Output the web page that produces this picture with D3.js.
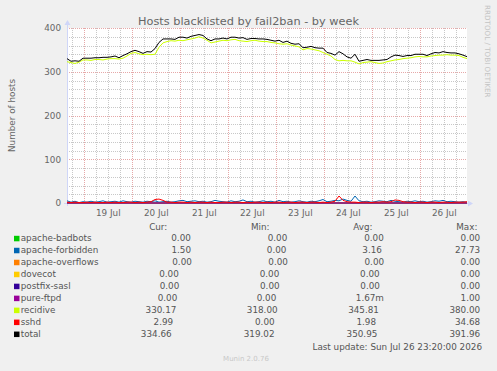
<!DOCTYPE html>
<html>
<head>
<meta charset="utf-8">
<script src="https://cdn.jsdelivr.net/npm/d3@7"></script>
<style>
body { margin: 0; background: #f0f0f0; }
svg { display: block; font-family: "DejaVu Sans", sans-serif; }
</style>
</head>
<body>
<div id="graph"></div>
<script>

// recidive, sshd, apache-forbidden: one value every 2 hours, Jul 18 15:20 -> Jul 26 23:20 (UTC)
var recidive = [323,321,319,322,327,327,326,328,328,327, 329,330,330,329,331,336,342,344,341,339,
	340,339,340,356,366,369,371,370,372,371, 373,375,377,380,377,372,366,368,370,372,
	371,373,374,371,370,369,371,372,370,369, 369,367,366,364,363,364,361,359,357,350,
	353,352,350,348,344,340,336,328,325,326, 325,325,322,318,321,322,323,321,319,320,
	323,325,327,328,330,331,332,334,335,334, 334,336,337,338,338,339,338,338,337,333,
	330];
var sshd = [2,1,2,1,1,2,1,2,1,1, 2,1,2,1,1,2,2,1,2,1, 2,3,8,9,6,2,2,1,2,2,
	1,2,1,2,2,1,2,1,1,2, 2,1,2,2,1,2,1,2,2,1, 2,1,2,2,1,2,2,1,2,2,
	1,2,2,1,2,1,2,4,16,6, 3,2,2,1,2,2,1,2,2,3, 2,3,7,6,3,2,2,1,2,2,
	1,2,2,1,2,2,1,2,2,2, 3];
var forbidden = [5,2,4,1,3,2,4,2,3,5, 2,3,4,2,5,3,2,4,3,2, 4,3,5,2,3,4,2,3,5,6,
	3,4,5,3,4,2,3,6,4,3, 2,5,3,4,7,3,4,2,3,5, 3,4,2,6,3,4,2,3,5,3,
	2,4,3,5,8,3,4,6,5,9, 6,4,16,5,3,4,2,3,5,4, 3,6,4,3,2,4,3,5,3,4,
	2,3,5,4,6,3,4,3,2,3, 1.5];
// the other jails stay at 0.00 over the whole week
var flat = new Array(recidive.length).fill(0);

var yTicks = [0, 100, 200, 300, 400];

var legendNames = ["apache-badbots", "apache-forbidden", "apache-overflows", "dovecot", "postfix-sasl", "pure-ftpd", "recidive", "sshd", "total"];
var legendColors = ["#00CC00", "#0066B3", "#FF8000", "#FFCC00", "#330099", "#990099", "#CCFF00", "#FF0000", "#000000"];
var legendCur = ["0.00", "1.50", "0.00", "0.00", "0.00", "0.00", "330.17", "2.99", "334.66"];
var legendMin = ["0.00", "0.00", "0.00", "0.00", "0.00", "0.00", "318.00", "0.00", "319.02"];
var legendAvg = ["0.00", "3.16", "0.00", "0.00", "0.00", "1.67m", "345.81", "1.98", "350.95"];
var legendMax = ["0.00", "27.73", "0.00", "0.00", "0.00", "1.00", "380.00", "34.68", "391.96"];

var width = 497, height = 371;
var pLeft = 67, pRight = 467, pTop = 28, pBottom = 203;
var start = Date.UTC(2026, 6, 18, 15, 20), end = Date.UTC(2026, 6, 26, 23, 20);
var step = 2 * 3600 * 1000;
var small = "8.8px";

var times = recidive.map(function(d, i) { return new Date(start + i * step); });
var total = recidive.map(function(d, i) { return d + sshd[i] + forbidden[i]; });

// drawing order as munin does it, total on top
var series = [
	{ v: flat, c: legendColors[0] },
	{ v: forbidden, c: legendColors[1] },
	{ v: flat, c: legendColors[2] },
	{ v: flat, c: legendColors[3] },
	{ v: flat, c: legendColors[4] },
	{ v: flat, c: legendColors[5] },
	{ v: recidive, c: legendColors[6] },
	{ v: sshd, c: legendColors[7] },
	{ v: total, c: legendColors[8] }
];

var x = d3.scaleUtc().domain([new Date(start), new Date(end)]).range([pLeft, pRight]);
var y = d3.scaleLinear().domain([0, 400]).range([pBottom, pTop]);

var svg = d3.select("#graph").append("svg")
	.attr("width", width)
	.attr("height", height);

svg.append("rect").attr("width", width).attr("height", height).attr("fill", "#f0f0f0");
svg.append("rect")
	.attr("x", pLeft).attr("y", pTop)
	.attr("width", pRight - pLeft).attr("height", pBottom - pTop)
	.attr("fill", "#fff");

// grid
var grid = svg.append("g").attr("stroke-dasharray", "1,1").attr("shape-rendering", "crispEdges");
var hours = d3.utcHour.every(6).range(new Date(start), new Date(end));
var minorH = d3.range(0, 401, 20).filter(function(v) { return v % 100 != 0; });

grid.selectAll(".hmin").data(minorH).enter().append("line")
	.attr("x1", pLeft).attr("x2", pRight)
	.attr("y1", function(d) { return Math.round(y(d)) + 0.5; })
	.attr("y2", function(d) { return Math.round(y(d)) + 0.5; })
	.attr("stroke", "#c8c8c8");
grid.selectAll(".vmin").data(hours.filter(function(d) { return d.getUTCHours() != 0; })).enter().append("line")
	.attr("x1", function(d) { return Math.round(x(d)) + 0.5; })
	.attr("x2", function(d) { return Math.round(x(d)) + 0.5; })
	.attr("y1", pTop).attr("y2", pBottom)
	.attr("stroke", "#c8c8c8");
grid.selectAll(".hmaj").data(yTicks).enter().append("line")
	.attr("x1", pLeft).attr("x2", pRight)
	.attr("y1", function(d) { return Math.round(y(d)) + 0.5; })
	.attr("y2", function(d) { return Math.round(y(d)) + 0.5; })
	.attr("stroke", "#e6a8a8");
grid.selectAll(".vmaj").data(hours.filter(function(d) { return d.getUTCHours() == 0; })).enter().append("line")
	.attr("x1", function(d) { return Math.round(x(d)) + 0.5; })
	.attr("x2", function(d) { return Math.round(x(d)) + 0.5; })
	.attr("y1", pTop).attr("y2", pBottom)
	.attr("stroke", "#e6a8a8");

// axes with arrows
var axisClr = "#CFD6F8";
svg.append("line").attr("x1", pLeft + 0.5).attr("x2", pLeft + 0.5).attr("y1", pBottom + 3).attr("y2", pTop - 5).attr("stroke", axisClr);
svg.append("line").attr("x1", pLeft - 3).attr("x2", pRight + 4).attr("y1", pBottom + 0.5).attr("y2", pBottom + 0.5).attr("stroke", axisClr);
svg.append("path").attr("d", "M" + (pLeft - 2.5) + "," + (pTop - 3) + "L" + (pLeft + 3.5) + "," + (pTop - 3) + "L" + (pLeft + 0.5) + "," + (pTop - 8) + "Z").attr("fill", axisClr);
svg.append("path").attr("d", "M" + (pRight + 1) + "," + (pBottom - 2.5) + "L" + (pRight + 1) + "," + (pBottom + 3.5) + "L" + (pRight + 6) + "," + (pBottom + 0.5) + "Z").attr("fill", axisClr);

// data lines
var line = d3.line()
	.x(function(d, i) { return x(times[i]); })
	.y(function(d) { return y(d); });

svg.append("g").selectAll("path")
	.data(series)
	.enter().append("path")
	.attr("d", function(d) { return line(d.v); })
	.attr("fill", "none")
	.attr("stroke", function(d) { return d.c; })
	.attr("stroke-width", 1);

// labels
svg.append("text")
	.attr("x", 248.5).attr("y", 25)
	.attr("text-anchor", "middle")
	.style("font-size", "11.3px")
	.attr("fill", "#666")
	.text("Hosts blacklisted by fail2ban - by week");

svg.append("g").selectAll("text")
	.data(yTicks).enter().append("text")
	.attr("x", 61).attr("y", function(d) { return y(d) + 3.3; })
	.attr("text-anchor", "end")
	.style("font-size", small)
	.attr("fill", "#666")
	.text(function(d) { return d; });

var noons = d3.utcDay.range(new Date(start), new Date(end)).map(function(d) { return d3.utcHour.offset(d, 12); })
	.filter(function(d) { return +d > start && +d < end; });

svg.append("g").selectAll("text")
	.data(noons).enter().append("text")
	.attr("x", function(d) { return x(d); }).attr("y", 216)
	.attr("text-anchor", "middle")
	.style("font-size", small)
	.attr("fill", "#666")
	.text(d3.utcFormat("%d %b"));

svg.append("text")
	.attr("transform", "translate(15," + ((pTop + pBottom) / 2) + ") rotate(-90)")
	.attr("text-anchor", "middle")
	.style("font-size", small)
	.attr("fill", "#666")
	.text("Number of hosts");

svg.append("text")
	.attr("transform", "translate(485,5) rotate(90)")
	.style("font-size", "7.2px")
	.attr("fill", "#c4c4c4")
	.text("RRDTOOL / TOBI OETIKER");

// legend, justified like rrdtool does it
var legendLeft = 14, legendRight = 483, boxW = 6.7;
var legend = svg.append("g").style("font-size", small).attr("fill", "#555");

function fmt(s) {
	var unit = /m$/.test(s) ? "m" : " ";
	return s.replace(/m$/, "").padStart(6, " ") + unit;
}

function justify(items, baseline, color) {
	var nodes = items.map(function(s) {
		return legend.append("text")
			.attr("y", baseline)
			.attr("xml:space", "preserve")
			.style("white-space", "pre")
			.text(s);
	});
	var widths = nodes.map(function(n) { return n.node().getComputedTextLength(); });
	widths[0] += boxW;
	var gap = (legendRight - legendLeft - d3.sum(widths)) / (items.length - 1);
	var pos = legendLeft;
	nodes.forEach(function(n, i) {
		n.attr("x", i == 0 ? pos + boxW : pos);
		pos += widths[i] + gap;
	});
	if (color) {
		legend.append("rect")
			.attr("x", legendLeft).attr("y", baseline - 5.5)
			.attr("width", 5.5).attr("height", 5.5)
			.attr("fill", color);
	}
}

var pad = d3.max(legendNames, function(d) { return d.length; });
justify(["".padEnd(pad, " "), "Cur:", "Min:", "Avg:", "Max:  "], 229.5, null);
legendNames.forEach(function(name, i) {
	justify([name.padEnd(pad, " "), fmt(legendCur[i]), fmt(legendMin[i]), fmt(legendAvg[i]), fmt(legendMax[i])],
		241.3 + i * 11.97, legendColors[i]);
});

legend.append("text")
	.attr("x", 482).attr("y", 349.5)
	.attr("text-anchor", "end")
	.text("Last update: Sun Jul 26 23:20:00 2026");

svg.append("text")
	.attr("x", 246).attr("y", 361)
	.attr("text-anchor", "middle")
	.style("font-size", "7px")
	.attr("fill", "#c8c8c8")
	.text("Munin 2.0.76");

</script>
</body>
</html>
